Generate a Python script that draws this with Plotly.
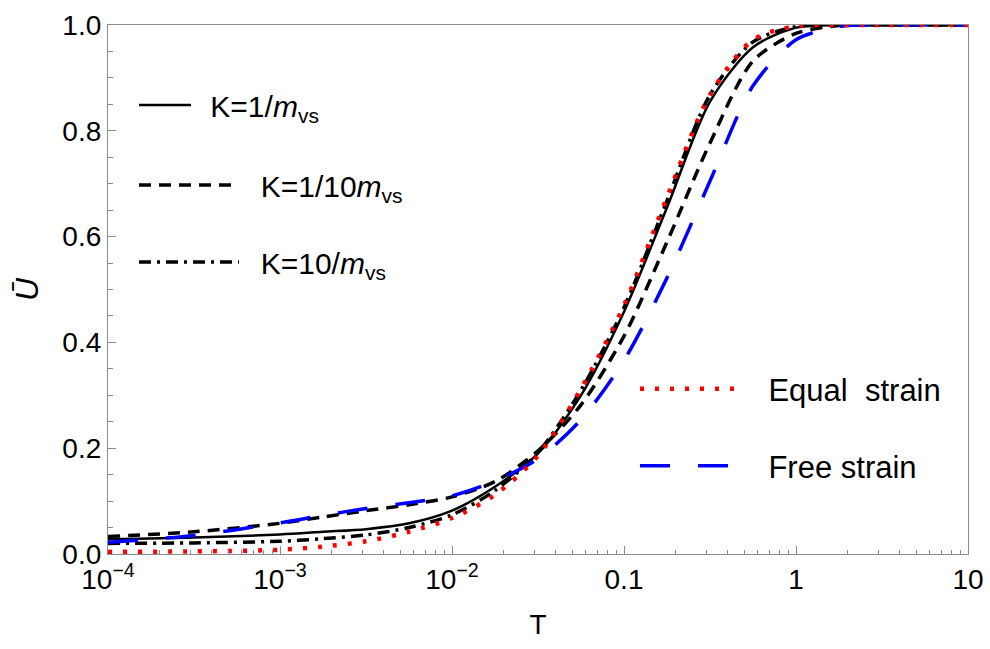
import plotly.graph_objects as go

# Time factor T as log10 values (shared grid for all series)
log_T = [-4.0, -3.5, -3.0, -2.75, -2.5, -2.25, -2.0, -1.75, -1.5, -1.25,
         -1.0, -0.75, -0.5, -0.25, 0.0, 0.25, 0.5, 1.0]
T = [10 ** v for v in log_T]

# Average degree of consolidation U for each case
U_k1 = [0.028, 0.031, 0.037, 0.042, 0.047, 0.058, 0.082, 0.127, 0.190, 0.300,
        0.458, 0.655, 0.855, 0.958, 0.995, 1.0, 1.0, 1.0]
U_k01 = [0.033, 0.042, 0.058, 0.070, 0.082, 0.093, 0.108, 0.137, 0.195, 0.282,
         0.412, 0.590, 0.777, 0.932, 0.984, 0.999, 1.0, 1.0]
U_k10 = [0.020, 0.021, 0.024, 0.029, 0.036, 0.050, 0.074, 0.120, 0.192, 0.310,
         0.466, 0.668, 0.868, 0.968, 0.997, 1.0, 1.0, 1.0]
U_free = [0.022, 0.035, 0.059, 0.073, 0.086, 0.097, 0.110, 0.138, 0.180, 0.254,
          0.366, 0.522, 0.705, 0.885, 0.972, 0.997, 1.0, 1.0]
U_equal = [0.004, 0.005, 0.008, 0.014, 0.024, 0.042, 0.068, 0.112, 0.186, 0.312,
           0.470, 0.674, 0.868, 0.972, 0.998, 1.0, 1.0, 1.0]

x_tick_vals = [1e-4, 1e-3, 1e-2, 0.1, 1, 10]
x_tick_text = ["10<sup>\u22124</sup>", "10<sup>\u22123</sup>", "10<sup>\u22122</sup>", "0.1", "1", "10"]
y_tick_vals = [0.0, 0.2, 0.4, 0.6, 0.8, 1.0]
y_tick_text = ["0.0", "0.2", "0.4", "0.6", "0.8", "1.0"]

FONT = "Liberation Sans, Arial, sans-serif"
W, H = 990, 649
ML, MR, MT, MB = 108, 22, 25, 95
PW, PH = W - ML - MR, H - MT - MB
NB = "\u00a0"
THIN = "\u2009"

fig = go.Figure()

series = [
    (U_k1, NB + THIN + "K=1/<i>m</i><sub>vs</sub>", dict(color="black", width=2.5, dash="solid"), "legend"),
    (U_k01, NB * 2 + "K=1/10<i>m</i><sub>vs</sub>", dict(color="black", width=3.5, dash="12px,8px"), "legend2"),
    (U_k10, NB * 2 + "K=10/<i>m</i><sub>vs</sub>", dict(color="black", width=3.5, dash="12px,6px,3px,6px"), "legend3"),
    (U_free, NB * 2 + THIN + "Free strain", dict(color="#0000ff", width=3.5, dash="30px,28px"), "legend5"),
    (U_equal, NB * 2 + THIN + "Equal" + NB + " strain", dict(color="#ff0000", width=4.5, dash="4px,11px"), "legend4"),
]
for u, name, line, leg in series:
    fig.add_trace(go.Scatter(x=T, y=u, mode="lines", name=name,
                             line=dict(shape="spline", smoothing=0.8, **line),
                             legend=leg))


def legend_box(px, py, item_w, size):
    # place a legend block by its left edge / vertical centre in pixels
    return dict(x=(px - ML) / PW, y=(H - MB - py) / PH, xref="paper", yref="paper",
                xanchor="left", yanchor="middle", bgcolor="rgba(0,0,0,0)",
                borderwidth=0, itemwidth=item_w,
                font=dict(family=FONT, size=size, color="black"))


fig.update_layout(
    width=W, height=H,
    showlegend=True,
    margin=dict(l=ML, r=MR, t=MT, b=MB, autoexpand=False),
    plot_bgcolor="white", paper_bgcolor="white",
    font=dict(family=FONT, size=28, color="black"),
    legend=legend_box(134, 105, 52, 30),
    legend2=legend_box(134, 185, 100, 30),
    legend3=legend_box(134, 262, 100, 30),
    legend4=legend_box(635, 389, 100, 31),
    legend5=legend_box(635, 466, 100, 31),
    xaxis=dict(type="log", range=[-4, 1], showgrid=False, zeroline=False,
               showline=True, linecolor="#8c8c8c", linewidth=1.2, mirror=True,
               ticks="inside", ticklen=8, tickcolor="#8c8c8c", tickwidth=1,
               tickmode="array", tickvals=x_tick_vals, ticktext=x_tick_text,
               tickangle=0, automargin=False,
               tickfont=dict(family=FONT, size=28, color="black"),
               minor=dict(ticks="inside", ticklen=4, tickcolor="#8c8c8c", dtick="D1", showgrid=False),
               title=dict(text="T", font=dict(family=FONT, size=28), standoff=20)),
    yaxis=dict(range=[0, 1], showgrid=False, zeroline=False,
               showline=True, linecolor="#8c8c8c", linewidth=1.2, mirror=True,
               ticks="inside", ticklen=8, tickcolor="#8c8c8c", tickwidth=1,
               tickmode="array", tickvals=y_tick_vals, ticktext=y_tick_text,
               automargin=False,
               tickfont=dict(family=FONT, size=28, color="black"),
               minor=dict(ticks="inside", ticklen=5, tickcolor="#8c8c8c", dtick=0.05, showgrid=False),
               title=dict(text="<i>\u016a</i>", font=dict(family=FONT, size=32), standoff=14)),
)

fig.write_html("out.html")
